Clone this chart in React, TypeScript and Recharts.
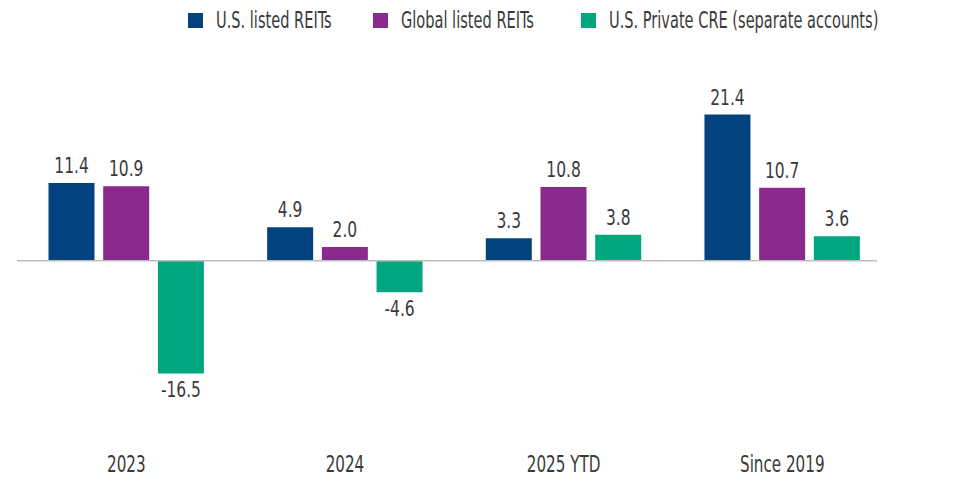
import React from 'react';
import { BarChart, Bar, XAxis, YAxis, ReferenceLine, Legend, LabelList } from 'recharts';

const categories = ['2023', '2024', '2025 YTD', 'Since 2019'];
const usListedReits = [11.4, 4.9, 3.3, 21.4];
const globalListedReits = [10.9, 2.0, 10.8, 10.7];
const usPrivateCre = [-16.5, -4.6, 3.8, 3.6];

const seriesNames = ['U.S. listed REITs', 'Global listed REITs', 'U.S. Private CRE (separate accounts)'];
const seriesKeys = ['usListed', 'globalListed', 'usPrivate'];
const seriesColors = ['#00437f', '#8a2a8c', '#00a67e'];
const legendLefts = [188, 373, 581];

const data = categories.map((c, i) => ({
  category: c,
  usListed: usListedReits[i],
  globalListed: globalListedReits[i],
  usPrivate: usPrivateCre[i],
}));

const FONT = "'DejaVu Sans Condensed', 'DejaVu Sans', sans-serif";
const TEXT = '#3a3a3a';

const ValueLabel = (props: any) => {
  const { x, y, width, height, value } = props;
  const top = Math.min(y, y + height);
  const bottom = Math.max(y, y + height);
  const cx = x + width / 2;
  const neg = value < 0;
  const ty = neg ? bottom + 8 : top - 10;
  return (
    <text
      transform={`translate(${cx},${ty}) scale(0.82,1)`}
      x={0}
      y={0}
      textAnchor="middle"
      dominantBaseline={neg ? 'hanging' : 'auto'}
      fontSize={21}
      fontFamily={FONT}
      fill={TEXT}
    >
      {Number(value).toFixed(1)}
    </text>
  );
};

const CategoryTick = (props: any) => {
  const { x, y, payload } = props;
  return (
    <text
      transform={`translate(${x},${y + 5}) scale(0.75,1)`}
      x={0}
      y={0}
      textAnchor="middle"
      dominantBaseline="central"
      fontSize={22.5}
      fontFamily={FONT}
      fill={TEXT}
    >
      {payload.value}
    </text>
  );
};

const LegendContent = () => (
  <div style={{ position: 'relative', height: 30, width: 966, fontFamily: FONT, fontSize: 22.5, color: TEXT }}>
    {seriesNames.map((n, i) => (
      <div
        key={n}
        style={{ position: 'absolute', left: legendLefts[i], top: 0, height: 30, display: 'flex', alignItems: 'center', whiteSpace: 'nowrap' }}
      >
        <span style={{ display: 'inline-block', width: 15, height: 15, background: seriesColors[i], marginRight: 13 }} />
        <span style={{ display: 'inline-block', transform: 'scaleX(0.72)', transformOrigin: 'left center' }}>{n}</span>
      </div>
    ))}
  </div>
);

export default function App() {
  return (
    <div style={{ position: 'absolute', left: 0, top: 0, width: 966, height: 490, background: '#fff' }}>
      <BarChart
        width={966}
        height={490}
        data={data}
        margin={{ top: 60, right: 89, bottom: 8, left: 17 }}
        barCategoryGap={31.5}
        barGap={8.7}
      >
        <XAxis
          dataKey="category"
          axisLine={false}
          tickLine={false}
          height={30}
          padding={{ left: 0, right: -14.6 }}
          tick={<CategoryTick />}
          interval={0}
        />
        <YAxis hide domain={[-28, 25]} allowDataOverflow />
        <Legend
          verticalAlign="top"
          align="left"
          content={<LegendContent />}
          wrapperStyle={{ top: 5, left: 0, width: 966, height: 30 }}
        />
        <ReferenceLine y={0} stroke="#bdbdbd" strokeWidth={1.5} />
        {seriesKeys.map((k, i) => (
          <Bar key={k} dataKey={k} name={seriesNames[i]} fill={seriesColors[i]} isAnimationActive={false}>
            <LabelList dataKey={k} content={<ValueLabel />} />
          </Bar>
        ))}
      </BarChart>
    </div>
  );
}
